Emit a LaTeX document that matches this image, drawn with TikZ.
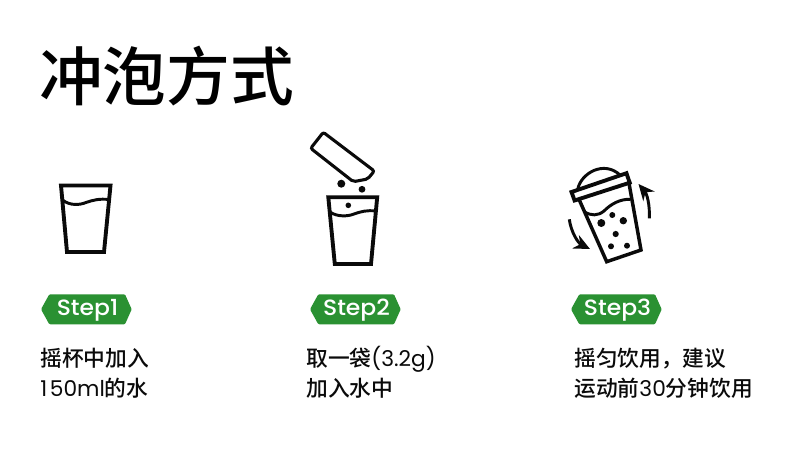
\documentclass[tikz,border=0pt]{standalone}
\usepackage{fontspec}
\setmainfont{Poppins}
\newfontfamily\cjk{Noto Sans CJK SC Medium}
\newfontfamily\lat{Poppins}
\newfontfamily\stepfont[FakeStretch=1.06]{Poppins Medium}
\usetikzlibrary{arrows.meta}
\definecolor{stepgreen}{HTML}{2A9132}
\definecolor{ink}{HTML}{0A0A0A}
\tikzset{
 icon/.style={draw=ink,line width=2.9pt,line join=miter},
 thin icon/.style={draw=ink,line width=2.2pt,line cap=round},
 dot/.style={fill=ink,draw=none},
 badge/.style={fill=stepgreen,draw=none,rounded corners=0.8pt},
 steplabel/.style={text=white,anchor=center,inner sep=0pt,font=\stepfont\fontsize{16.6pt}{18pt}\selectfont},
 body/.style={anchor=base west,inner sep=0pt,text=ink,font=\cjk\fontsize{16.3pt}{20pt}\selectfont},
 heading/.style={anchor=base west,inner sep=0pt,text=black,font=\cjk\fontsize{47.8pt}{56pt}\selectfont},
}
\newcommand{\stepbadge}[3]{%
 \fill[badge] (#1-47,309.3) -- (#1-38.7,294.3) -- (#1+37,294.3) -- (#1+43.7,309.3) -- (#1+37,324.3) -- (#1-38.7,324.3) -- cycle;
 \node[steplabel] (#2) at (#1-0.5,310.5) {#3};}
\begin{document}
\begin{tikzpicture}[x=0.75pt,y=-0.75pt]
\useasboundingbox[fill=white] (0,0) rectangle (790,472);
\node[heading] (title) at (39,100) {冲泡方式};
% glass 1
\draw[icon] (61,185.5) -- (110.5,185.5) -- (104,252) -- (67,252) -- cycle;
\draw[thin icon] (62.5,200) .. controls (70,206) and (80,205) .. (86,202.5) .. controls (93,200) and (100,198.5) .. (108.5,199.5);
% glass 2
\draw[icon] (328.3,197.2) -- (377.2,197.2) -- (371,264) -- (334.8,264) -- cycle;
\draw[thin icon] (330,212) .. controls (337,217) and (348,216.5) .. (354,214) .. controls (361,211.5) and (367,210) .. (375.5,211);
\fill[dot] (341.3,183.7) circle (4.0);
\fill[dot] (362,189.3) circle (3.4);
\fill[dot] (348.3,205.3) circle (2.8);
\draw[icon,line width=2.3pt,rounded corners=1.6pt] (323.3,132.3) -- (310.7,148.3) -- (353.3,181.7) -- (367.7,179) -- (374.3,171) -- cycle;
% glass 3
\draw[icon] (571.5,192) -- (626.5,173.2) -- (629.7,182.7) -- (574.6,200.5) -- cycle;
\draw[thin icon,line cap=butt] (577.7,189.3) .. controls (581,173) and (604,160) .. (620,175);
\draw[icon,line width=2.6pt] (579,199.3) -- (606.7,261.7) -- (641,250) -- (629,183.3);
\draw[thin icon] (584.3,211.7) .. controls (591,216) and (598,216) .. (604,211) .. controls (611,204) and (620,199) .. (630,199.3);
\fill[dot] (601.3,223) circle (4);
\fill[dot] (612.3,215) circle (3);
\fill[dot] (623.3,220.7) circle (3.7);
\fill[dot] (615.7,234) circle (3.1);
\fill[dot] (611,246.3) circle (3);
\fill[dot] (627,245.7) circle (3);
\draw[thin icon,line cap=butt,-{Stealth[length=12,width=11]}] (569.3,219.3) .. controls (571,232) and (578,243) .. (590,249);
\draw[thin icon,line cap=butt,-{Stealth[length=12,width=11]}] (649.3,218.3) .. controls (650,205) and (647,194) .. (638.5,184);
% badges
\stepbadge{88}{s1}{Step1}
\stepbadge{357}{s2}{Step2}
\stepbadge{618}{s3}{Step3}
% captions
\node[body] (a1) at (40,366) {摇杯中加入};
\node[body] (a2) at (40,396) {{\lat 1\kern2pt 50ml}的水};
\node[body] (b1) at (306,366) {取一袋{\lat (3.2g)}};
\node[body] (b2) at (306,396) {加入水中};
\node[body] (c1) at (574,366) {摇匀饮用，建议};
\node[body] (c2) at (574,396) {运动前{\lat 30}分钟饮用};
\end{tikzpicture}
\end{document}
